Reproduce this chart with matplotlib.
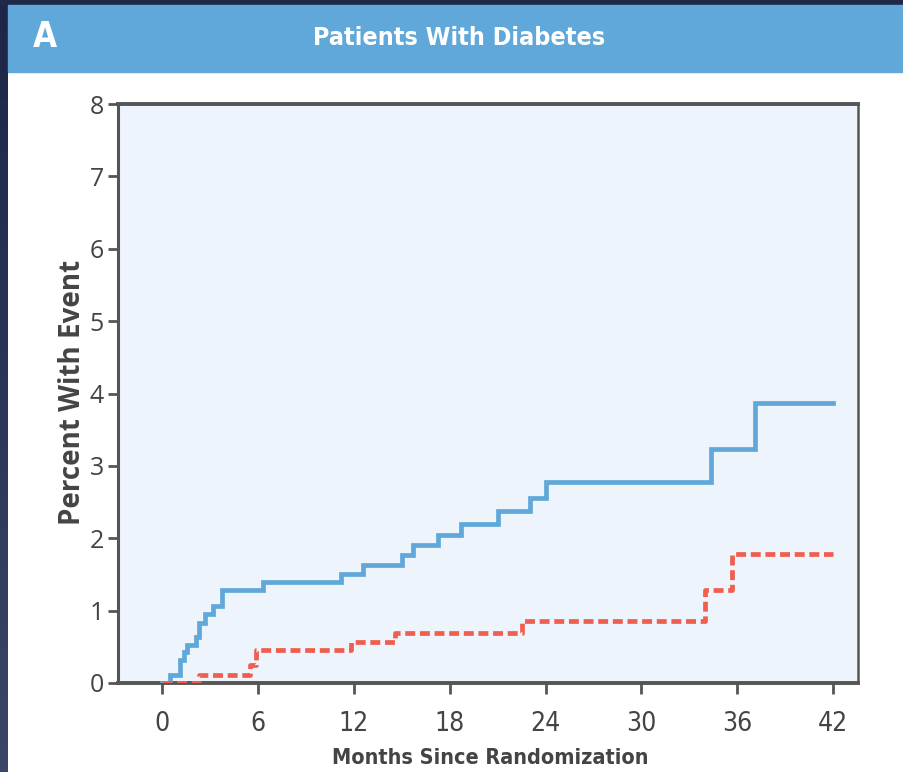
import matplotlib
matplotlib.use("Agg")
import matplotlib.pyplot as plt
import numpy as np
from matplotlib.colors import LinearSegmentedColormap
from matplotlib.patches import Rectangle

# cumulative event curves (percent), read as step functions
blue_months = [0, 0.5, 1.1, 1.35, 1.55, 2.15, 2.3, 2.7, 3.2, 3.75, 6.3, 11.2, 12.6,
               15.05, 15.7, 17.3, 18.7, 21.0, 23.0, 24.05, 34.35, 37.1, 42.0]
blue_pct = [0, 0.11, 0.32, 0.43, 0.53, 0.64, 0.83, 0.95, 1.06, 1.28, 1.39, 1.50, 1.63,
            1.77, 1.90, 2.05, 2.20, 2.37, 2.56, 2.78, 3.24, 3.87, 3.87]

red_months = [0, 2.3, 5.5, 5.9, 11.8, 14.55, 22.5, 34.0, 35.65, 42.0]
red_pct = [0, 0.11, 0.25, 0.45, 0.57, 0.69, 0.86, 1.28, 1.78, 1.78]

x_ticks = [0, 6, 12, 18, 24, 30, 36, 42]
y_ticks = [0, 1, 2, 3, 4, 5, 6, 7, 8]

NARROW = ["Noto Sans Condensed", "Liberation Sans Narrow", "DejaVu Sans"]
GREY = "#555555"
W, H = 904, 772

fig = plt.figure(figsize=(W / 100, H / 100), dpi=100, facecolor="white")

# dark frame on the left and top
strip = fig.add_axes([0, 0, 8 / W, 1])
grad = np.linspace(0, 1, 256).reshape(-1, 1)
cmap = LinearSegmentedColormap.from_list("frame", ["#1c2646", "#3b4568"])
strip.imshow(grad, aspect="auto", cmap=cmap, extent=[0, 1, 0, 1])
strip.axis("off")
fig.patches.append(Rectangle((0, 1 - 5 / H), 1, 5 / H, transform=fig.transFigure,
                             color="#1e2848", zorder=0))

# header bar
fig.patches.append(Rectangle((8 / W, 1 - 72 / H), 1, 67 / H, transform=fig.transFigure,
                             color="#5fa8d9", zorder=0))
fig.text(45 / W, 1 - 37 / H, "A", color="white", fontsize=25, fontweight="bold",
         family=NARROW, stretch="condensed", ha="center", va="center")
fig.text(459 / W, 1 - 38 / H, "Patients With Diabetes", color="white", fontsize=18,
         fontweight="bold", family=NARROW, stretch="condensed", ha="center", va="center")

ax = fig.add_axes([118 / W, 89 / H, 740 / W, 579 / H])
ax.set_facecolor("#edf4fc")

ax.step(blue_months, blue_pct, where="post", color="#5fa8d9", lw=3.4,
        solid_joinstyle="miter", zorder=3)
ax.step(red_months, red_pct, where="post", color="#ef5e4e", lw=3.4,
        dashes=(2.1, 1.0), zorder=4)

ax.set_xlim(-2.75, 43.55)
ax.set_ylim(0, 8)
ax.set_xticks(x_ticks)
ax.set_yticks(y_ticks)

for side, w in [("left", 2.2), ("bottom", 2.8), ("top", 2.8), ("right", 1.8)]:
    ax.spines[side].set_color(GREY)
    ax.spines[side].set_linewidth(w)

ax.tick_params(axis="y", length=7, width=2, color=GREY, pad=3, labelsize=18,
               labelcolor="#444444")
ax.tick_params(axis="x", length=8, width=2, color=GREY, pad=12, labelsize=19,
               labelcolor="#444444")
for lbl in ax.get_xticklabels():
    lbl.set_family(NARROW)
    lbl.set_stretch("condensed")
for lbl in ax.get_yticklabels():
    lbl.set_family(["Open Sans", "DejaVu Sans"])

fig.text(73 / W, 1 - 392 / H, "Percent With Event", rotation=90, color="#444444",
         fontsize=20, fontweight="bold", family=["Open Sans", "DejaVu Sans"],
         ha="center", va="center")
fig.text(490 / W, 1 - 758 / H, "Months Since Randomization", color="#444444",
         fontsize=15.5, fontweight="bold", family=NARROW, stretch="condensed",
         ha="center", va="center")

fig.savefig("out.png", dpi=100, facecolor="white")
